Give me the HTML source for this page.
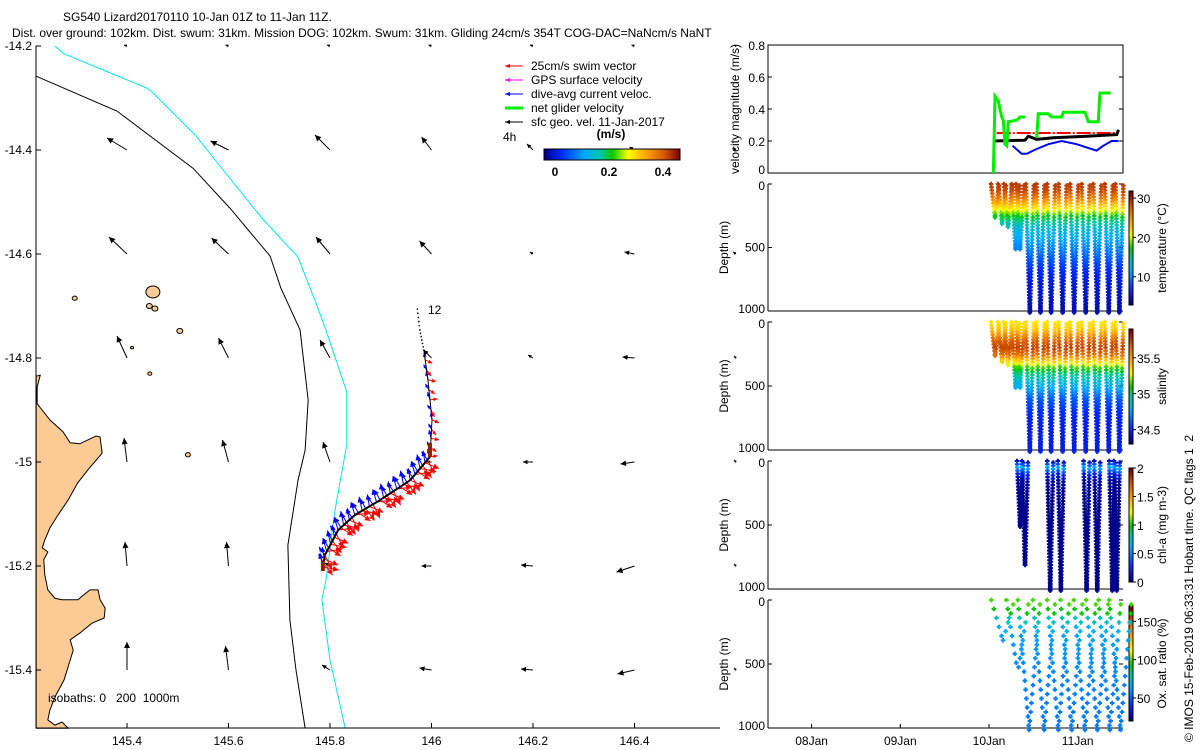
<!DOCTYPE html>
<html><head><meta charset="utf-8"><style>
html,body{margin:0;padding:0;background:#fff;}
svg{display:block;font-family:"Liberation Sans",sans-serif;}
text{font-size:12px;fill:#000;white-space:pre;}
</style></head><body>
<svg id="fig" width="1200" height="750" viewBox="0 0 1200 750" xmlns="http://www.w3.org/2000/svg">
<text x="63" y="21">SG540 Lizard20170110 10-Jan 01Z to 11-Jan 11Z.</text>
<text x="12" y="37">Dist. over ground: 102km. Dist. swum: 31km. Mission DOG: 102km. Swum: 31km. Gliding 24cm/s 354T COG-DAC=NaNcm/s NaNT</text>
<g id="map"></g>
<g id="vel"></g>
<g id="temp"></g>
<g id="sal"></g>
<g id="chl"></g>
<g id="oxy"></g>
<text transform="translate(1193,742) rotate(-90)">© IMOS 15-Feb-2019 06:33:31 Hobart time. QC flags 1  2</text>
</svg>
<script>
// ===== MAP DATA =====
const lonTicks=[145.4,145.6,145.8,146,146.2,146.4];
const latTicks=[-14.2,-14.4,-14.6,-14.8,-15,-15.2,-15.4];
const gridLons=[145.4,145.6,145.8,146,146.2,146.4,146.6];
const gridLats=[-14.2,-14.4,-14.6,-14.8,-15,-15.2,-15.4];
const curU=[
 [-0.03,-0.03,-0.03,-0.03,-0.03,-0.03,-0.02],
 [-0.20,-0.18,-0.15,-0.10,-0.06,-0.05,-0.03],
 [-0.18,-0.17,-0.14,-0.12,-0.03,-0.10,-0.03],
 [-0.10,-0.10,-0.10,-0.08,-0.05,-0.12,-0.02],
 [-0.03,-0.06,-0.07,-0.05,-0.10,-0.14,-0.02],
 [-0.02,-0.02,-0.05,-0.10,-0.12,-0.18,-0.02],
 [0.0,-0.03,-0.08,-0.12,-0.12,-0.17,-0.02]];
const curV=[
 [0.01,0.01,0.01,0.01,0.01,0.01,0.01],
 [0.12,0.09,0.15,0.13,0.06,0.03,0.02],
 [0.17,0.16,0.17,0.13,0.02,0.02,0.02],
 [0.22,0.20,0.18,0.08,0.03,0.01,0.02],
 [0.24,0.22,0.20,0.0,0.0,-0.02,0.02],
 [0.24,0.24,0.03,0.0,0.01,-0.06,0.02],
 [0.28,0.24,0.05,0.02,0.01,-0.04,0.02]];
const trackLon=[145.786,145.790,145.816,145.849,145.899,145.958,145.997,146.001,145.993,145.985,145.977,145.971];
const trackLat=[-15.202,-15.179,-15.131,-15.102,-15.073,-15.035,-14.99,-14.919,-14.842,-14.785,-14.746,-14.698];
const iso0Lon=[145.221,145.380,145.530,145.603,145.682,145.703,145.741,145.757,145.751,145.737,145.717,145.721,145.733,145.751];
const iso0Lat=[-14.258,-14.325,-14.435,-14.512,-14.604,-14.665,-14.746,-14.881,-14.977,-15.035,-15.16,-15.304,-15.40,-15.512];
const iso1Lon=[145.258,145.274,145.439,145.449,145.536,145.599,145.666,145.737,145.770,145.792,145.833,145.833,145.810,145.792,145.784,145.800,145.830];
const iso1Lat=[-14.2,-14.214,-14.281,-14.288,-14.373,-14.45,-14.531,-14.606,-14.688,-14.746,-14.865,-14.967,-15.092,-15.227,-15.265,-15.381,-15.512];
const coastLon=[145.221,145.229,145.223,145.223,145.248,145.274,145.288,145.307,145.339,145.347,145.351,145.323,145.303,145.284,145.264,145.248,145.238,145.233,145.244,145.236,145.238,145.244,145.258,145.272,145.303,145.327,145.343,145.347,145.357,145.355,145.331,145.307,145.288,145.294,145.288,145.276,145.260,145.248,145.244,145.258,145.272,145.284,145.221];
const coastLat=[-14.835,-14.833,-14.856,-14.888,-14.919,-14.942,-14.963,-14.965,-14.95,-14.952,-14.983,-15.015,-15.040,-15.073,-15.102,-15.127,-15.15,-15.165,-15.173,-15.188,-15.217,-15.246,-15.262,-15.265,-15.265,-15.246,-15.246,-15.265,-15.281,-15.30,-15.31,-15.329,-15.342,-15.362,-15.381,-15.419,-15.448,-15.477,-15.496,-15.506,-15.50,-15.512,-15.512];
const islLon=[145.451,145.444,145.455,145.504,145.297,145.410,145.445,145.520];
const islLat=[-14.673,-14.700,-14.705,-14.748,-14.685,-14.78,-14.83,-14.986];
const islR=[7,3,3,3,2.5,1.5,2,2.5];

// ===== VELOCITY DATA (days since 10-Jan 00Z) =====
const netT=[0.049,0.068,0.105,0.143,0.161,0.18,0.2,0.218,0.312,0.35,0.406,null,0.537,0.556,0.669,0.706,0.819,0.838,1.082,1.12,1.232,1.251,1.372];
const netV=[0,0.48,0.45,0.35,0.33,0.18,0.17,0.32,0.33,0.35,0.35,null,0.22,0.37,0.37,0.35,0.35,0.38,0.38,0.32,0.32,0.50,0.50];
const sfcT=[0.049,0.406,0.444,0.537,0.725,1.1,1.44,1.46];
const sfcV=[0.20,0.205,0.23,0.21,0.22,0.23,0.24,0.27];
const swimT=[0.087,1.46];
const swimV=[0.25,0.25];
const dacT=[0.266,0.368,0.425,0.537,0.669,0.819,0.988,1.1,1.213,1.288,1.382,1.46];
const dacV=[0.17,0.12,0.12,0.15,0.18,0.20,0.18,0.16,0.14,0.17,0.20,0.20];
const dateTicks=[-2,-1,0,1];
const dateLabels=["08Jan","09Jan","10Jan","11Jan"];

// ===== PROFILE DATA =====
const diveT=[0.068,0.147,0.214,0.30,0.35,0.46,0.58,0.70,0.83,0.96,1.09,1.22,1.35,1.47];
const diveMax=[250,300,330,500,500,1000,1000,1000,1000,1000,1000,1000,1000,1000];
const profDepth=[0,50,100,150,200,250,300,350,400,500,600,700,800,1000];
const profTemp=[29.5,29,27,24,21,17,15,13,12,10,8,6,5,4];
const profSal=[35.35,35.4,35.55,35.7,35.75,35.65,35.4,35.15,35.0,34.8,34.6,34.5,34.45,34.45];
const chlDiveT=[0.35,0.406,0.69,0.81,1.10,1.22,1.39,1.44];
const chlDiveMax=[500,820,1000,1000,1000,1000,1000,1000];
const profChl=[0.1,0.6,0.2,0.05,0.03,0.02,0.02,0.02,0.02,0.02,0.02,0.02,0.02,0.02];
const oxyDiveT=[0.15,0.32,0.45,0.62,0.78,0.93,1.08,1.22,1.36,1.48];
const oxyDiveMax=[300,550,1000,1000,1000,1000,1000,1000,1000,1000];
const profOxy=[100,98,90,75,68,64,62,61,60,58,57,56,55,55];

const NS="http://www.w3.org/2000/svg";
function mk(tag,attrs,parent){const e=document.createElementNS(NS,tag);for(const k in attrs)e.setAttribute(k,attrs[k]);parent.appendChild(e);return e;}
function txt(s,x,y,parent,anchor,extra){const t=mk('text',Object.assign({x:x,y:y,'text-anchor':anchor||'start'},extra||{}),parent);t.textContent=s;return t;}
const CM=[[0,0,0,130],[0.12,0,40,255],[0.3,0,170,255],[0.42,0,200,160],[0.5,0,200,0],[0.62,255,255,0],[0.75,255,165,0],[0.88,215,90,0],[1,128,0,0]];
function jet(v){v=Math.max(0,Math.min(1,v));for(let i=1;i<CM.length;i++){if(v<=CM[i][0]){const a=CM[i-1],b=CM[i],f=(v-a[0])/(b[0]-a[0]);return `rgb(${Math.round(a[1]+f*(b[1]-a[1]))},${Math.round(a[2]+f*(b[2]-a[2]))},${Math.round(a[3]+f*(b[3]-a[3]))})`;}}return 'rgb(128,0,0)';}
function interp(xs,ys,x){if(x<=xs[0])return ys[0];for(let i=1;i<xs.length;i++){if(x<=xs[i]){const f=(x-xs[i-1])/(xs[i]-xs[i-1]);return ys[i-1]+f*(ys[i]-ys[i-1]);}}return ys[ys.length-1];}

// ===== MAP =====
const map=document.getElementById('map');
const lx=lon=>127+(lon-145.4)/0.2*101.5;
const ly=lat=>46+(-14.2-lat)/0.2*104;
const coast=mk('polygon',{points:coastLon.map((l,i)=>lx(l)+','+ly(coastLat[i])).join(' '),fill:'#fccb95',stroke:'#000','stroke-width':1},map);


islLon.forEach((l,i)=>{const c=mk('ellipse',{cx:lx(l),cy:ly(islLat[i]),rx:islR[i],ry:islR[i]*0.85,fill:'#fccb95',stroke:'#000','stroke-width':1},map);
 
 });
const i0=mk('polyline',{points:iso0Lon.map((l,i)=>lx(l)+','+ly(iso0Lat[i])).join(' '),fill:'none',stroke:'#000','stroke-width':1},map);


const i1=mk('polyline',{points:iso1Lon.map((l,i)=>lx(l)+','+ly(iso1Lat[i])).join(' '),fill:'none',stroke:'#00e5ee','stroke-width':1},map);


function arrow(x,y,dx,dy,col,g,w){mk('line',{x1:x,y1:y,x2:x+dx,y2:y+dy,stroke:col,'stroke-width':w||1},g);const L=Math.hypot(dx,dy);if(L<1)return;const ux=dx/L,uy=dy/L,hx=x+dx,hy=y+dy,s=Math.min(6,2+L*0.25);mk('polygon',{points:`${hx},${hy} ${hx-ux*s-uy*s*0.5},${hy-uy*s+ux*s*0.5} ${hx-ux*s+uy*s*0.5},${hy-uy*s-ux*s*0.5}`,fill:col},g);}
const sc=100;
gridLats.forEach((la,r)=>gridLons.forEach((lo,c)=>{const g=mk('g',{},map);
 
 
 arrow(lx(lo),ly(la),curU[r][c]*sc,-curV[r][c]*sc,'#000',g);}));
// glider track
const trk=mk('g',{},map);


const blueDx=[-6,-3,-5,-2,-6,-4], blueDy=[-10,-14,-9,-12,-8,-13];
const redDx=[12,16,9,14,7,15], redDy=[8,3,12,6,14,-2];
let cnt=0;
for(let i=0;i<trackLon.length-1;i++){const x1=lx(trackLon[i]),y1=ly(trackLat[i]),x2=lx(trackLon[i+1]),y2=ly(trackLat[i+1]);const dense=i<6;const n=Math.max(2,Math.round(Math.hypot(x2-x1,y2-y1)/(dense?4:10)));
 for(let k=0;k<n;k++){const f=k/n,x=x1+(x2-x1)*f,y=y1+(y2-y1)*f;cnt++;
  if(i<9){const j=cnt%6;arrow(x,y,blueDx[j]*(dense?1:0.6),blueDy[j]*(dense?1:0.6),'#0000ff',trk);arrow(x,y,redDx[j]*(dense?1:0.5),redDy[j]*(dense?1:0.5),'#ff0000',trk);}
  else{mk('circle',{cx:x,cy:y,r:0.8,fill:'#000'},trk);}}
 if(i<9) mk('line',{x1:x1,y1:y1,x2:x2,y2:y2,stroke:'#000','stroke-width':i<6?2:1},trk);
 else {for(let k=0;k<6;k++)mk('circle',{cx:x1+(x2-x1)*k/6,cy:y1+(y2-y1)*k/6,r:0.8,fill:'#000'},trk);}}
mk('rect',{x:lx(trackLon[0])-2,y:ly(trackLat[0])-6,width:4,height:10,fill:'#8b2500'},trk);
mk('rect',{x:lx(trackLon[6])-2,y:ly(trackLat[6])-14,width:4,height:14,fill:'#8b2500'},trk);
txt('12',428,314,map);
txt('4h',503,141,map);
// axes
mk('line',{x1:36,y1:46,x2:36,y2:728,stroke:'#000'},map);
mk('line',{x1:36,y1:728,x2:720,y2:728,stroke:'#000'},map);
lonTicks.forEach(l=>{mk('line',{x1:lx(l),y1:728,x2:lx(l),y2:723,stroke:'#000'},map);const t=txt(String(l),lx(l),745,map,'middle');
 
 });
latTicks.forEach(l=>{mk('line',{x1:36,y1:ly(l),x2:41,y2:ly(l),stroke:'#000'},map);const t=txt(String(l),32,ly(l)+4,map,'end');
 
 });
txt('isobaths: 0   200  1000m',48,702,map);
// legend
const leg=mk('g',{},map);


const legItems=[['25cm/s swim vector','#ff0000',1],['GPS surface velocity','#ff00ff',1],['dive-avg current veloc.','#0000ff',1],['net glider velocity','#00ee00',3],['sfc geo. vel. 11-Jan-2017','#000',1]];
legItems.forEach((it,i)=>{const y=66+i*14;const g=mk('g',{},leg);
 
 
 mk('line',{x1:505,y1:y,x2:523,y2:y,stroke:it[1],'stroke-width':it[2]},g);mk('polygon',{points:`${505},${y} ${510},${y-2} ${510},${y+2}`,fill:it[1]},g);txt(it[0],531,y+4,g);});
txt('(m/s)',611,138,map,'middle',{'font-weight':'bold'});
for(let i=0;i<136;i++){mk('rect',{x:544+i,y:149,width:1.2,height:11,fill:jet(i/135)},map);}
mk('rect',{x:544,y:149,width:136,height:11,fill:'none',stroke:'#000'},map);
[[0,'0'],[0.2,'0.2'],[0.4,'0.4']].forEach(v=>{const x=555+v[0]/0.4*108;txt(v[1],x,176,map,'middle',{'font-weight':'bold'});});

// ===== RIGHT PANELS =====
const PX0=768,PX1=1123;
const tx=d=>989+d*88.7;
function depthPanel(g,y0,y1,title,cbTicks,cbLabels,cbMin,cbMax,cb0,cb1,showDates){
 const dy=d=>y0+d/1000*(y1-y0);
 mk('line',{x1:PX0,y1:y0,x2:PX0,y2:y1,stroke:'#000'},g);
 mk('line',{x1:PX0,y1:y1,x2:PX1,y2:y1,stroke:'#000'},g);
 [0,500,1000].forEach(d=>{mk('line',{x1:PX0,y1:dy(d),x2:PX0+4,y2:dy(d),stroke:'#000'},g);mk('line',{x1:PX1,y1:dy(d),x2:PX1-4,y2:dy(d),stroke:'#000'},g);txt(String(d),765,dy(d)+(d===0?6:d===1000?2:4),g,'end',{'font-size':'13px'});});
 txt('Depth (m)',0,0,g,'middle',{transform:`translate(728,${(y0+y1)/2}) rotate(-90)`,'font-size':'13px'});
 for(let i=0;i<40;i++){mk('rect',{x:1129,y:cb1-(i+1)*(cb1-cb0)/40,width:4,height:(cb1-cb0)/40+0.5,fill:jet(i/39)},g);}
 mk('rect',{x:1129,y:cb0,width:4,height:cb1-cb0,fill:'none',stroke:'#000'},g);
 cbTicks.forEach((v,i)=>{const y=cb1-(v-cbMin)/(cbMax-cbMin)*(cb1-cb0);mk('line',{x1:1133,y1:y,x2:1136,y2:y,stroke:'#000'},g);txt(cbLabels[i],1137,y+5,g,'start',{'font-size':'13px'});});
 txt(title,0,0,g,'middle',{transform:`translate(1166,${(cb0+cb1)/2}) rotate(-90)`,'font-size':'13px'});
 if(showDates){dateTicks.forEach((d,i)=>{mk('line',{x1:tx(d),y1:y1,x2:tx(d),y2:y1-4,stroke:'#000'},g);const t=txt(dateLabels[i],tx(d),745,g,'middle');
  
  });}
 return dy;
}
function dot(g,x,y,col){mk('path',{d:`M${x-2.3},${y}h4.6M${x},${y-2.3}v4.6`,stroke:col,'stroke-width':2},g);}
function drawDives(g,dy,times,maxes,step,vals,vmin,vmax,width){
 times.forEach((t,i)=>{for(let d=0;d<=maxes[i];d+=step){const f=d/maxes[i];const v=interp(profDepth,vals,d);const c=jet((v-vmin)/(vmax-vmin));
  dot(g,tx(t)-width/2+f*width*0.5,dy(d),c);dot(g,tx(t)+width/2-f*width*0.5,dy(d+step/2),c);}});
}
// velocity panel
const vel=document.getElementById('vel');
const vy=v=>173-v*160;
mk('rect',{x:PX0,y:45,width:PX1-PX0,height:128,fill:'none',stroke:'#000'},vel);
[0,0.2,0.4,0.6,0.8].forEach(v=>{mk('line',{x1:PX0,y1:vy(v),x2:PX0+4,y2:vy(v),stroke:'#000'},vel);mk('line',{x1:PX1,y1:vy(v),x2:PX1-4,y2:vy(v),stroke:'#000'},vel);txt(String(v),765,vy(v)+(v===0?1:5),vel,'end',{'font-size':'13px'});});
txt('velocity magnitude (m/s)',0,0,vel,'middle',{transform:`translate(739,109) rotate(-90)`,'font-size':'13px'});
function line(ts,vs,col,w,dash,name){let d='',pen=false;ts.forEach((t,i)=>{if(t===null){pen=false;return;}d+=(pen?'L':'M')+tx(t)+','+vy(vs[i]);pen=true;});const p=mk('path',{d:d,fill:'none',stroke:col,'stroke-width':w},vel);if(dash)p.setAttribute('stroke-dasharray',dash);
 
 }
line(swimT,swimV,'#ff0000',2,'14,2,2,2','swim-speed-line');
line(sfcT,sfcV,'#000',3,null,'surface-velocity-line');
line(dacT,dacV,'#0000ff',2,null,'dive-avg-current-line');
line(netT,netV,'#00ee00',3,null,'net-glider-velocity-line');
const tg=document.getElementById('temp');
const tdy=depthPanel(tg,184,311,'temperature (°C)',[10,20,30],['10','20','30'],2.8,31.8,191,305,false);
drawDives(tg,tdy,diveT,diveMax,25,profTemp,2.8,31.8,8);
const sg=document.getElementById('sal');
const sdy=depthPanel(sg,322,450,'salinity',[34.5,35,35.5],['34.5','35','35.5'],34.3,35.9,329,444,false);
drawDives(sg,sdy,diveT,diveMax,25,profSal,34.3,35.9,8);
const cg=document.getElementById('chl');
const cdy=depthPanel(cg,461,589,'chl-a (mg m-3)',[0,0.5,1,1.5,2],['0','0.5','1','1.5','2'],0,2,468,582,false);
drawDives(cg,cdy,chlDiveT,chlDiveMax,25,profChl,0,2,6);
const og=document.getElementById('oxy');
const ody=depthPanel(og,600,728,'Ox. sat. ratio (%)',[50,100,150],['50','100','150'],20,170,606,721,true);
drawDives(og,ody,oxyDiveT,oxyDiveMax,70,profOxy,20,170,22);
</script>
</body></html>
